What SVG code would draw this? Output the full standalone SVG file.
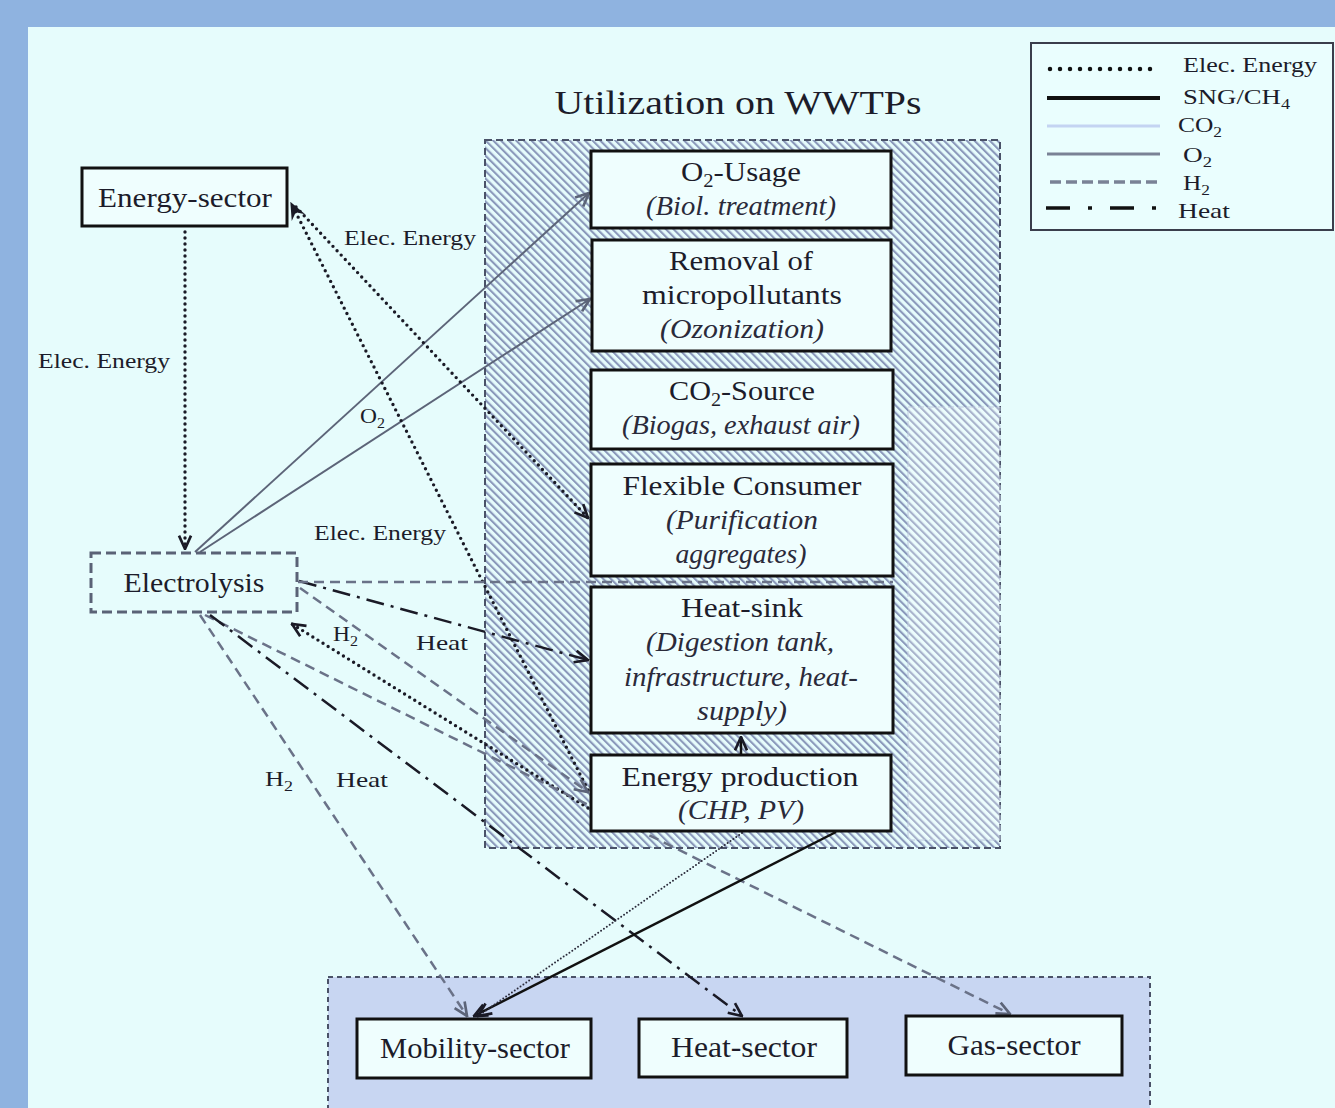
<svg xmlns="http://www.w3.org/2000/svg" width="1335" height="1108" viewBox="0 0 1335 1108">
<defs>
<pattern id="hatch" patternUnits="userSpaceOnUse" width="5.4" height="5.4" patternTransform="rotate(-45)">
<rect width="5.4" height="5.4" fill="#e6fcfc"/>
<rect width="2.1" height="5.4" fill="#8a98ba"/>
</pattern>
<marker id="aB" markerUnits="userSpaceOnUse" markerWidth="16" markerHeight="16" viewBox="0 0 12 12" refX="11" refY="6" orient="auto">
<path d="M1,1.5 L11,6 L1,10.5" fill="none" stroke="#1a1a26" stroke-width="2"/>
</marker>
<marker id="aG" markerUnits="userSpaceOnUse" markerWidth="16" markerHeight="16" viewBox="0 0 12 12" refX="11" refY="6" orient="auto">
<path d="M1,1.5 L11,6 L1,10.5" fill="none" stroke="#5c6478" stroke-width="2"/>
</marker>
<marker id="aF" markerUnits="userSpaceOnUse" markerWidth="18" markerHeight="18" viewBox="0 0 12 12" refX="11" refY="6" orient="auto">
<path d="M0,1 L12,6 L0,11 L4,6 Z" fill="#1a1a26"/>
</marker>
</defs>
<style>
text{font-family:"Liberation Serif","Times New Roman","Noto Serif",serif;fill:#1c1c2a}
.n{font-size:27px}
.i{font-style:italic;fill:#2a2a3a}
.lb{font-size:22px}
.nb{fill:#effefe;stroke:#111;stroke-width:3}
.elec{fill:none;stroke:#1a1a26;stroke-width:3.4;stroke-dasharray:0 6;stroke-linecap:round}
.elecs{fill:none;stroke:#2a2a3a;stroke-width:2;stroke-dasharray:0 3.5;stroke-linecap:round}
.o2{fill:none;stroke:#5c6478;stroke-width:2}
.h2{fill:none;stroke:#6a7288;stroke-width:2.5;stroke-dasharray:10 6}
.heat{fill:none;stroke:#1a1a26;stroke-width:2.5;stroke-dasharray:18 7 3 7}
.sng{fill:none;stroke:#111;stroke-width:2.5}
</style>
<rect width="1335" height="1108" fill="#8fb3e0"/>
<rect x="28" y="27" width="1307" height="1081" fill="#e6fcfc"/>

<g id="wwtp-area">
<rect x="485" y="140" width="515" height="708" fill="url(#hatch)" stroke="#4a5268" stroke-width="2" stroke-dasharray="7 4"/>
<rect x="908" y="407" width="92" height="433" fill="#ffffff" fill-opacity="0.25" stroke="#c0cce0" stroke-width="1" stroke-dasharray="6 4"/>
<text x="738" y="114" font-size="34" textLength="367" lengthAdjust="spacingAndGlyphs" text-anchor="middle">Utilization on WWTPs</text>
</g>

<g id="sector-area">
<rect x="328" y="977" width="822" height="140" fill="#c8d6f2" stroke="#4a5268" stroke-width="2" stroke-dasharray="5 4"/>
</g>

<g id="legend">
<rect x="1031" y="43" width="302" height="187" fill="#eafefe" stroke="#3a3e4c" stroke-width="2"/>
<line x1="1050" y1="69" x2="1160" y2="69" fill="none" stroke="#111" stroke-width="4.5" stroke-dasharray="0 10" stroke-linecap="round"/>
<line x1="1047" y1="98" x2="1160" y2="98" stroke="#111" stroke-width="4"/>
<line x1="1047" y1="126" x2="1160" y2="126" stroke="#c4d4f2" stroke-width="3"/>
<line x1="1047" y1="154" x2="1160" y2="154" stroke="#7a8296" stroke-width="3"/>
<line x1="1050" y1="182" x2="1160" y2="182" stroke="#7a8296" stroke-width="3.5" stroke-dasharray="11 5"/>
<line x1="1046" y1="208" x2="1160" y2="208" stroke="#111" stroke-width="3.5" stroke-dasharray="24 18 4 18"/>
<text x="1183" y="72" class="lb" textLength="134" lengthAdjust="spacingAndGlyphs">Elec. Energy</text>
<text x="1183" y="104" class="lb" textLength="107" lengthAdjust="spacingAndGlyphs">SNG/CH<tspan font-size="15" dy="5">4</tspan></text>
<text x="1178" y="132" class="lb" textLength="44" lengthAdjust="spacingAndGlyphs">CO<tspan font-size="15" dy="5">2</tspan></text>
<text x="1183" y="162" class="lb" textLength="29" lengthAdjust="spacingAndGlyphs">O<tspan font-size="15" dy="5">2</tspan></text>
<text x="1183" y="190" class="lb" textLength="27" lengthAdjust="spacingAndGlyphs">H<tspan font-size="15" dy="5">2</tspan></text>
<text x="1178" y="218" class="lb" textLength="52" lengthAdjust="spacingAndGlyphs">Heat</text>
</g>

<g id="connectors">
<path id="c-energy-electrolysis" d="M185,232 L185,549" class="elec" marker-end="url(#aB)"/>
<path id="c-elec-o2usage" d="M195,552 L589,193" class="o2" marker-end="url(#aG)"/>
<path id="c-elec-removal" d="M200,552 L590,299" class="o2" marker-end="url(#aG)"/>
<path id="c-energy-flex" d="M296,207 L588,518" class="elec" marker-end="url(#aB)"/>
<path id="c-prod-energy" d="M588,790 L291,203" class="elec" marker-end="url(#aF)"/>
<path id="c-elec-heatsink" d="M299,581 L588,660" class="heat" marker-end="url(#aB)"/>
<path id="c-elec-h2-line" d="M298,582 L893,582" class="h2"/>
<path id="c-elec-prod" d="M300,588 L588,792" class="h2" marker-end="url(#aG)"/>
<path id="c-prod-elec" d="M588,808 L292,624" class="elec" marker-end="url(#aB)"/>
<path id="c-elec-gas" d="M205,615 L1010,1014" class="h2" marker-end="url(#aG)"/>
<path id="c-elec-heatsector" d="M210,615 L742,1016" class="heat" marker-end="url(#aB)"/>
<path id="c-elec-mobility" d="M200,615 L467,1016" class="h2" marker-end="url(#aG)"/>
<path id="c-prod-mobility-sng" d="M836,832 L474,1016" class="sng" marker-end="url(#aB)"/>
<path id="c-prod-mobility-elec" d="M742,833 L478,1016" class="elecs" marker-end="url(#aB)"/>
<path id="c-prod-heatsink" d="M741,754 L741,737" stroke="#111" stroke-width="2.5" marker-end="url(#aB)"/>
<text x="38" y="368" class="lb" textLength="132" lengthAdjust="spacingAndGlyphs">Elec. Energy</text>
<text x="344" y="245" class="lb" textLength="132" lengthAdjust="spacingAndGlyphs">Elec. Energy</text>
<text x="314" y="540" class="lb" textLength="132" lengthAdjust="spacingAndGlyphs">Elec. Energy</text>
<text x="360" y="423" class="lb" textLength="25" lengthAdjust="spacingAndGlyphs">O<tspan font-size="15" dy="5">2</tspan></text>
<text x="333" y="641" class="lb" textLength="25" lengthAdjust="spacingAndGlyphs">H<tspan font-size="15" dy="5">2</tspan></text>
<text x="416" y="650" class="lb" textLength="52" lengthAdjust="spacingAndGlyphs">Heat</text>
<text x="265" y="786" class="lb" textLength="28" lengthAdjust="spacingAndGlyphs">H<tspan font-size="15" dy="5">2</tspan></text>
<text x="336" y="787" class="lb" textLength="52" lengthAdjust="spacingAndGlyphs">Heat</text>
</g>

<g id="energy-sector">
<rect x="82" y="168" width="205" height="58" class="nb"/>
<text x="185" y="207" class="n" text-anchor="middle" textLength="174" lengthAdjust="spacingAndGlyphs">Energy-sector</text>
</g>

<g id="electrolysis">
<rect x="91" y="553" width="206" height="59" fill="#e6fcfc" stroke="#5a6276" stroke-width="3" stroke-dasharray="10 5"/>
<text x="194" y="592" class="n" text-anchor="middle" textLength="141" lengthAdjust="spacingAndGlyphs">Electrolysis</text>
</g>

<g id="o2-usage">
<rect x="591" y="151" width="300" height="77" class="nb"/>
<text x="741" y="181" class="n" text-anchor="middle" textLength="120" lengthAdjust="spacingAndGlyphs">O<tspan font-size="18" dy="6">2</tspan><tspan dy="-6">-Usage</tspan></text>
<text x="741" y="215" class="n i" text-anchor="middle" textLength="190" lengthAdjust="spacingAndGlyphs">(Biol. treatment)</text>
</g>

<g id="removal">
<rect x="592" y="240" width="299" height="111" class="nb"/>
<text x="741" y="270" class="n" text-anchor="middle" textLength="144" lengthAdjust="spacingAndGlyphs">Removal of</text>
<text x="742" y="304" class="n" text-anchor="middle" textLength="200" lengthAdjust="spacingAndGlyphs">micropollutants</text>
<text x="742" y="338" class="n i" text-anchor="middle" textLength="164" lengthAdjust="spacingAndGlyphs">(Ozonization)</text>
</g>

<g id="co2-source">
<rect x="591" y="370" width="302" height="79" class="nb"/>
<text x="742" y="400" class="n" text-anchor="middle" textLength="146" lengthAdjust="spacingAndGlyphs">CO<tspan font-size="18" dy="6">2</tspan><tspan dy="-6">-Source</tspan></text>
<text x="741" y="434" class="n i" text-anchor="middle" textLength="238" lengthAdjust="spacingAndGlyphs">(Biogas, exhaust air)</text>
</g>

<g id="flexible-consumer">
<rect x="591" y="464" width="302" height="112" class="nb"/>
<text x="742" y="495" class="n" text-anchor="middle" textLength="239" lengthAdjust="spacingAndGlyphs">Flexible  Consumer</text>
<text x="742" y="529" class="n i" text-anchor="middle" textLength="152" lengthAdjust="spacingAndGlyphs">(Purification</text>
<text x="741" y="563" class="n i" text-anchor="middle" textLength="131" lengthAdjust="spacingAndGlyphs">aggregates)</text>
</g>

<g id="heat-sink">
<rect x="591" y="587" width="302" height="146" class="nb"/>
<text x="742" y="617" class="n" text-anchor="middle" textLength="122" lengthAdjust="spacingAndGlyphs">Heat-sink</text>
<text x="740" y="651" class="n i" text-anchor="middle" textLength="188" lengthAdjust="spacingAndGlyphs">(Digestion tank,</text>
<text x="741" y="686" class="n i" text-anchor="middle" textLength="234" lengthAdjust="spacingAndGlyphs">infrastructure, heat-</text>
<text x="742" y="720" class="n i" text-anchor="middle" textLength="90" lengthAdjust="spacingAndGlyphs">supply)</text>
</g>

<g id="energy-production">
<rect x="591" y="755" width="300" height="76" class="nb"/>
<text x="740" y="786" class="n" text-anchor="middle" textLength="237" lengthAdjust="spacingAndGlyphs">Energy production</text>
<text x="741" y="819" class="n i" text-anchor="middle" textLength="126" lengthAdjust="spacingAndGlyphs">(CHP, PV)</text>
</g>

<g id="mobility-sector">
<rect x="357" y="1019" width="234" height="59" class="nb"/>
<text x="475" y="1058" font-size="29" text-anchor="middle" textLength="190" lengthAdjust="spacingAndGlyphs">Mobility-sector</text>
</g>

<g id="heat-sector">
<rect x="639" y="1019" width="208" height="58" class="nb"/>
<text x="744" y="1057" font-size="29" text-anchor="middle" textLength="146" lengthAdjust="spacingAndGlyphs">Heat-sector</text>
</g>

<g id="gas-sector">
<rect x="906" y="1016" width="216" height="59" class="nb"/>
<text x="1014" y="1055" font-size="29" text-anchor="middle" textLength="133" lengthAdjust="spacingAndGlyphs">Gas-sector</text>
</g>
</svg>
